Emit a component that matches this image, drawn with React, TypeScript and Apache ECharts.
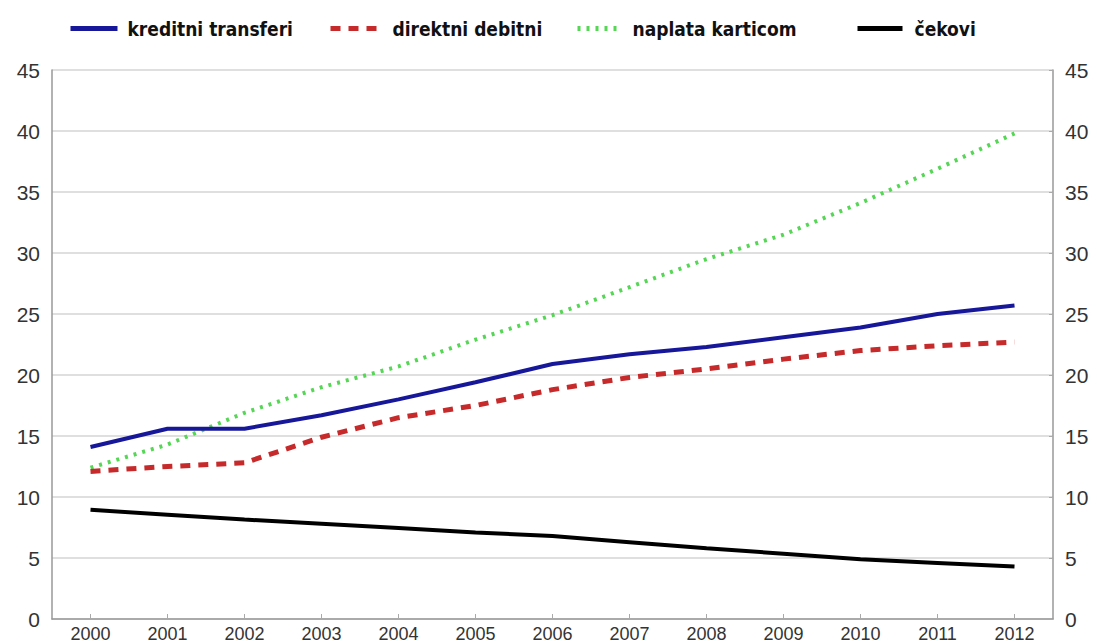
import React, { useEffect, useRef } from "react";
import * as echarts from "echarts";

const years = ["2000","2001","2002","2003","2004","2005","2006","2007","2008","2009","2010","2011","2012"];
const kreditni = [14.1, 15.6, 15.6, 16.7, 18.0, 19.4, 20.9, 21.7, 22.3, 23.1, 23.9, 25.0, 25.7];
const direktni = [12.1, 12.5, 12.8, 14.9, 16.5, 17.5, 18.8, 19.8, 20.5, 21.3, 22.0, 22.4, 22.7];
const kartice = [12.4, 14.3, 16.9, 19.0, 20.7, 22.9, 24.9, 27.2, 29.5, 31.5, 34.1, 36.9, 39.8];
const cekovi = [8.95, 8.55, 8.15, 7.8, 7.45, 7.1, 6.8, 6.3, 5.8, 5.35, 4.9, 4.6, 4.3];
const seriesNames = ["kreditni transferi", "direktni debitni", "naplata karticom", "čekovi"];

export default function App() {
  const ref = useRef<HTMLDivElement>(null);
  useEffect(() => {
    if (!ref.current) return;
    const chart = echarts.init(ref.current, null, { renderer: "svg" });
    const axisFont = { fontFamily: "Liberation Sans, Arial, sans-serif", color: "#333" };
    const legendLefts = [68, 328, 575, 855];
    const legendWidths = [47, 47, 40, 45];
    const legendTextPad = [5, 10, 10, 7];
    chart.setOption({
      animation: false,
      backgroundColor: "#fff",
      legend: seriesNames.map((n, i) => ({
        left: legendLefts[i],
        top: 19,
        padding: 0,
        itemWidth: legendWidths[i],
        itemHeight: 14,
        data: [n],
        itemStyle: { opacity: 0 },
        lineStyle: { width: 5 },
        textStyle: {
          fontFamily: "Liberation Sans Narrow, DejaVu Sans Condensed, Arial Narrow, sans-serif",
          fontWeight: "bold",
          fontSize: 19,
          color: "#111",
          padding: [0, 0, 0, legendTextPad[i]],
        },
      })),
      grid: { left: 52, right: 44, top: 70, bottom: 22.5, containLabel: false },
      xAxis: {
        type: "category",
        data: years,
        boundaryGap: true,
        axisLine: { lineStyle: { color: "#999", width: 1.5 } },
        axisTick: { show: true, inside: true, alignWithLabel: true, length: 5, lineStyle: { color: "#aaa" } },
        axisLabel: { ...axisFont, fontSize: 18, margin: 6 },
      },
      yAxis: [
        {
          type: "value",
          min: 0,
          max: 45,
          interval: 5,
          position: "left",
          axisLine: { show: true, lineStyle: { color: "#999", width: 1.5 } },
          axisTick: { show: false },
          splitLine: { show: true, lineStyle: { color: "#d4d4d4", width: 1.5 } },
          axisLabel: { ...axisFont, fontSize: 21, margin: 12 },
        },
        {
          type: "value",
          min: 0,
          max: 45,
          interval: 5,
          position: "right",
          axisLine: { show: true, lineStyle: { color: "#999", width: 1.5 } },
          axisTick: { show: true, inside: true, length: 4, lineStyle: { color: "#aaa" } },
          splitLine: { show: false },
          axisLabel: { ...axisFont, fontSize: 21, margin: 12 },
        },
      ],
      series: [
        {
          name: seriesNames[0],
          type: "line",
          data: kreditni,
          symbol: "none",
          lineStyle: { color: "#17179a", width: 4 },
          itemStyle: { color: "#17179a" },
          z: 4,
        },
        {
          name: seriesNames[1],
          type: "line",
          data: direktni,
          symbol: "none",
          lineStyle: { color: "#c62a2a", width: 5, type: [10, 8] },
          itemStyle: { color: "#c62a2a" },
          z: 3,
        },
        {
          name: seriesNames[2],
          type: "line",
          data: kartice,
          symbol: "none",
          lineStyle: { color: "#55d655", width: 4, type: [3, 6] },
          itemStyle: { color: "#55d655" },
          z: 2,
        },
        {
          name: seriesNames[3],
          type: "line",
          data: cekovi,
          symbol: "none",
          lineStyle: { color: "#000", width: 4 },
          itemStyle: { color: "#000" },
          z: 5,
        },
      ],
    });
    return () => chart.dispose();
  }, []);
  return <div ref={ref} style={{ position: "fixed", left: 0, top: 0, width: 1097, height: 643 }} />;
}
